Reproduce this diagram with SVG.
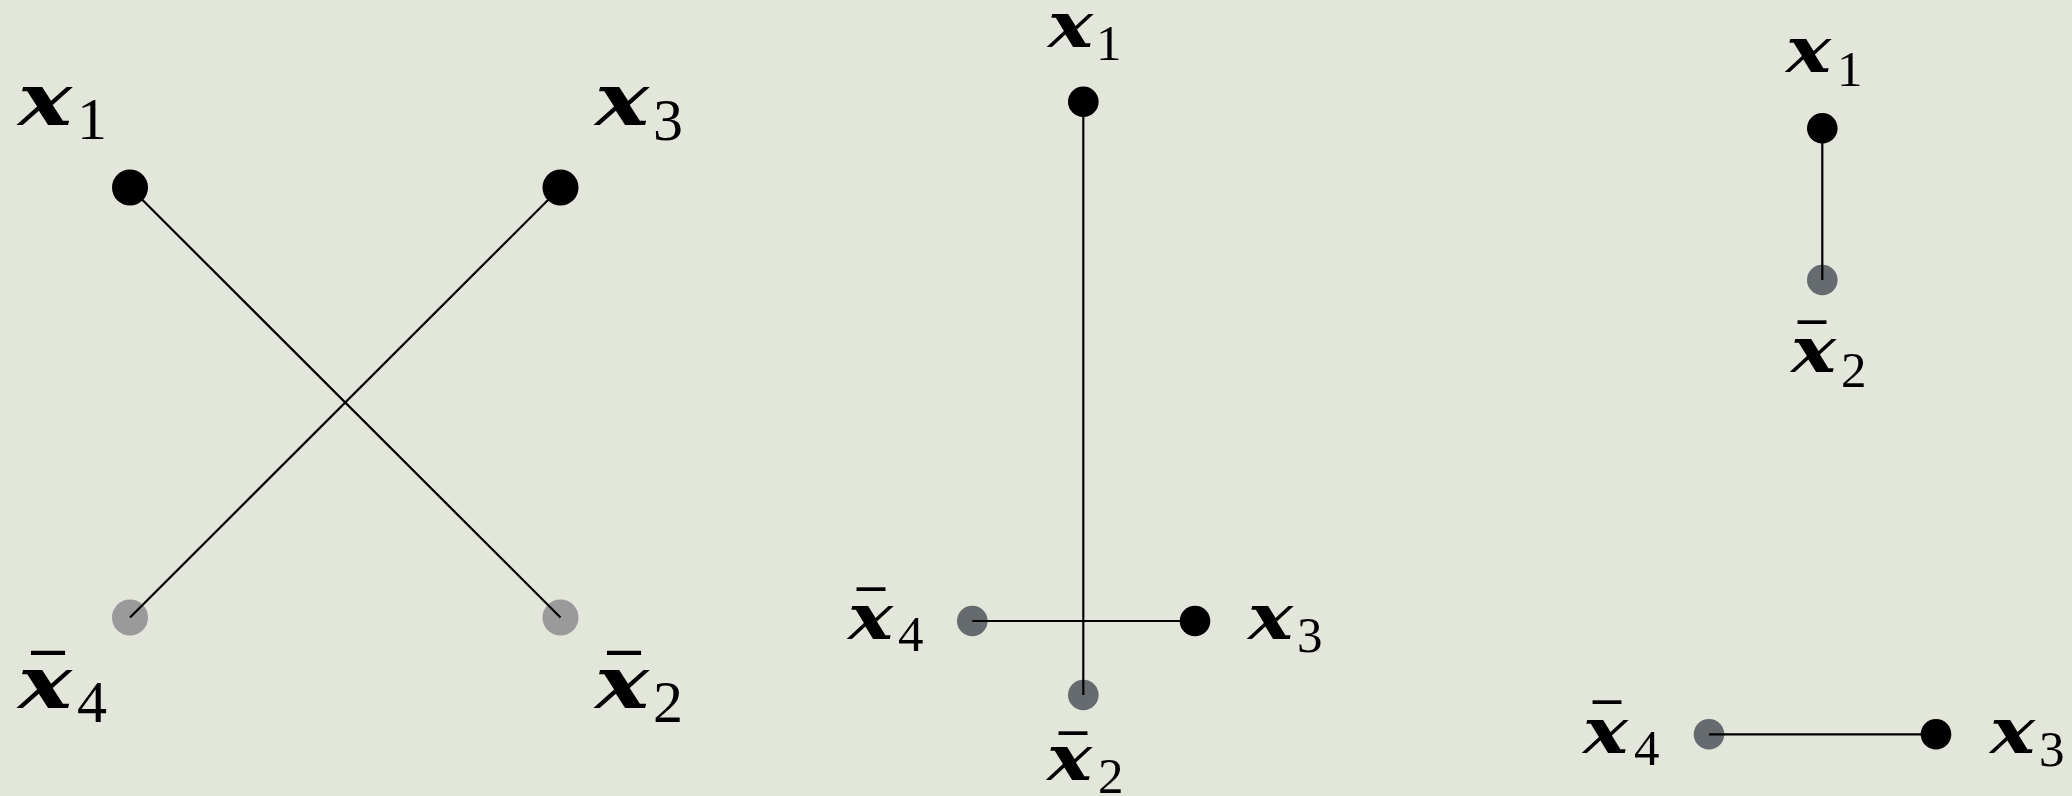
<svg xmlns="http://www.w3.org/2000/svg" width="2072" height="796" viewBox="0 0 2072 796">
<style>
.bg{fill:#e3e6da}
.edge{stroke:#000;stroke-width:2.2;fill:none}
.blk{fill:#000}
.gl{fill:#9a9a9a}
.gd{fill:#656b6e}
.v{font-family:"DejaVu Serif",serif;font-weight:bold;font-style:italic;fill:#000}
.s{font-family:"Liberation Serif",serif;font-weight:normal;font-style:normal;fill:#000}
.b{font-family:"Liberation Serif",serif;font-weight:bold;fill:#000;text-anchor:middle}
.L .v{font-size:72px}.L .s{font-size:60px}.L .b{font-size:60px}
.M .v{font-size:63px}.M .s{font-size:51px}.M .b{font-size:51px}
</style>
<rect class="bg" x="0" y="0" width="2072" height="796"/>

<!-- left panel -->
<g class="L">
<g id="l_x1"><circle class="blk" cx="130" cy="187.5" r="18"/><text class="v" x="18" y="125" textLength="54" lengthAdjust="spacingAndGlyphs">x</text><text class="s" x="77" y="139">1</text></g>
<g id="l_x3"><circle class="blk" cx="560.5" cy="187.5" r="18"/><text class="v" x="595" y="125" textLength="54" lengthAdjust="spacingAndGlyphs">x</text><text class="s" x="653" y="140">3</text></g>
<g id="l_x4"><circle class="gl" cx="130" cy="617.5" r="18"/><text class="b" x="48" y="695" textLength="33" lengthAdjust="spacingAndGlyphs">¯</text><text class="v" x="18" y="708" textLength="54" lengthAdjust="spacingAndGlyphs">x</text><text class="s" x="77" y="722">4</text></g>
<g id="l_x2"><circle class="gl" cx="560.5" cy="617.5" r="18"/><text class="b" x="624" y="695" textLength="33" lengthAdjust="spacingAndGlyphs">¯</text><text class="v" x="595" y="708" textLength="54" lengthAdjust="spacingAndGlyphs">x</text><text class="s" x="653" y="722">2</text></g>
</g>

<!-- middle panel -->
<g class="M">
<g id="m_x1"><circle class="blk" cx="1083.3" cy="101.7" r="15.3"/><text class="v" x="1048" y="47" textLength="45" lengthAdjust="spacingAndGlyphs">x</text><text class="s" x="1096" y="60">1</text></g>
<g id="m_x4"><circle class="gd" cx="972.3" cy="621" r="15.3"/><text class="b" x="871" y="626" textLength="28" lengthAdjust="spacingAndGlyphs">¯</text><text class="v" x="848" y="639" textLength="45" lengthAdjust="spacingAndGlyphs">x</text><text class="s" x="898" y="651">4</text></g>
<g id="m_x3"><circle class="blk" cx="1195" cy="621" r="15.3"/><text class="v" x="1248" y="639" textLength="45" lengthAdjust="spacingAndGlyphs">x</text><text class="s" x="1297" y="652">3</text></g>
<g id="m_x2"><circle class="gd" cx="1083.3" cy="695" r="15.3"/><text class="b" x="1073" y="770" textLength="28" lengthAdjust="spacingAndGlyphs">¯</text><text class="v" x="1047" y="780" textLength="45" lengthAdjust="spacingAndGlyphs">x</text><text class="s" x="1098" y="793">2</text></g>
</g>

<!-- right panel -->
<g class="M">
<g id="r_x1"><circle class="blk" cx="1822.3" cy="128.3" r="15.3"/><text class="v" x="1786" y="72" textLength="45" lengthAdjust="spacingAndGlyphs">x</text><text class="s" x="1837" y="86">1</text></g>
<g id="r_x2"><circle class="gd" cx="1822.3" cy="280" r="15.3"/><text class="b" x="1812" y="359" textLength="28" lengthAdjust="spacingAndGlyphs">¯</text><text class="v" x="1791" y="372" textLength="45" lengthAdjust="spacingAndGlyphs">x</text><text class="s" x="1841" y="387">2</text></g>
<g id="r_x4"><circle class="gd" cx="1709" cy="734.3" r="15.3"/><text class="b" x="1607" y="739" textLength="28" lengthAdjust="spacingAndGlyphs">¯</text><text class="v" x="1583" y="753" textLength="45" lengthAdjust="spacingAndGlyphs">x</text><text class="s" x="1634" y="765">4</text></g>
<g id="r_x3"><circle class="blk" cx="1936" cy="734.3" r="15.3"/><text class="v" x="1990" y="753" textLength="45" lengthAdjust="spacingAndGlyphs">x</text><text class="s" x="2039" y="766">3</text></g>
</g>

<g id="connectors">
<line class="edge" x1="130" y1="187.5" x2="560.5" y2="617.5"/>
<line class="edge" x1="560.5" y1="187.5" x2="130" y2="617.5"/>
<line class="edge" x1="1083.3" y1="101.7" x2="1083.3" y2="695"/>
<line class="edge" x1="972.3" y1="621" x2="1195" y2="621"/>
<line class="edge" x1="1822.3" y1="128.3" x2="1822.3" y2="280"/>
<line class="edge" x1="1709" y1="734.3" x2="1936" y2="734.3"/>
</g>
</svg>
